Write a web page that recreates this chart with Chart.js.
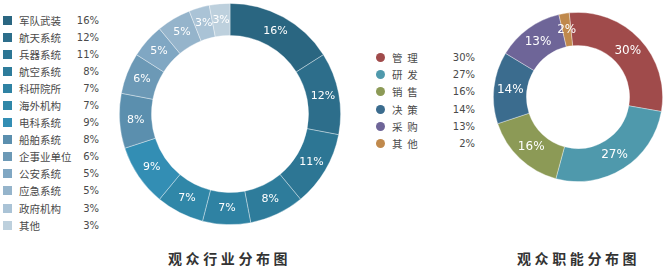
<!DOCTYPE html>
<html>
<head>
<meta charset="utf-8">
<script src="https://cdn.jsdelivr.net/npm/chart.js@4.4.0/dist/chart.umd.min.js"></script>
<style>
  body { margin: 0; width: 668px; height: 267px; background: #fff; position: relative; overflow: hidden; font-family: "Noto Sans CJK SC", sans-serif; }
  .box { position: absolute; }
  .legend { position: absolute; color: #4a4a4a; font-size: 10.5px; }
  .row { position: relative; display: flex; align-items: center; }
  .pct { position: absolute; font-family: "DejaVu Sans", sans-serif; font-size: 10px; text-align: right; }
  .title { position: absolute; top: 248px; font-size: 14px; font-weight: bold; color: #333; letter-spacing: 3.6px; white-space: nowrap; }
</style>
</head>
<body>
<div class="box" id="leftBox" style="left:119px;top:3px;width:222px;height:222px;"><canvas id="industryChart"></canvas></div>
<div class="box" id="rightBox" style="left:493px;top:12px;width:170px;height:170px;"><canvas id="roleChart"></canvas></div>
<div class="legend" id="industryLegend" style="left:0;top:12px;"></div>
<div class="legend" id="roleLegend" style="left:372px;top:48.6px;"></div>
<div class="title" style="left:168px;">观众行业分布图</div>
<div class="title" style="left:517px;">观众职能分布图</div>
<script>
const industryLabels = ["军队武装", "航天系统", "兵器系统", "航空系统", "科研院所", "海外机构", "电科系统", "船舶系统", "企事业单位", "公安系统", "应急系统", "政府机构", "其他"];
const industryValues = [16, 12, 11, 8, 7, 7, 9, 8, 6, 5, 5, 3, 3];
const industryColors = ["#2a6681", "#2d6e8b", "#2d7694", "#2e7c9b", "#2f82a3", "#3087a8", "#338eb4", "#5b8fae", "#6c99b6", "#80a7c3", "#95b4cb", "#aac3d6", "#bdd0dd"];

const roleLabels = ["管 理", "研 发", "销 售", "决 策", "采 购", "其 他"];
const roleValues = [30, 27, 16, 14, 13, 2];
const roleColors = ["#a04b4b", "#4f99ac", "#8c9a56", "#3b6c8e", "#6e6598", "#c0894c"];

// draws the percent text in the middle of each slice
const sliceLabels = {
  id: 'sliceLabels',
  afterDatasetsDraw(chart, args, opts) {
    const ctx = chart.ctx;
    const meta = chart.getDatasetMeta(0);
    const values = chart.data.datasets[0].data;
    ctx.save();
    ctx.fillStyle = '#fff';
    ctx.font = opts.size + 'px "DejaVu Sans", sans-serif';
    ctx.textAlign = 'center';
    ctx.textBaseline = 'middle';
    meta.data.forEach((arc, i) => {
      const p = arc.getCenterPoint();
      ctx.fillText(values[i] + '%', p.x, p.y);
    });
    ctx.restore();
  }
};

function donut(id, labels, values, colors, cutout, rotation, size) {
  new Chart(document.getElementById(id), {
    type: 'doughnut',
    data: {
      labels: labels,
      datasets: [{
        data: values,
        backgroundColor: colors,
        borderColor: 'rgba(255,255,255,0.45)',
        borderWidth: 0.8,
      }]
    },
    options: {
      responsive: true,
      maintainAspectRatio: false,
      animation: false,
      cutout: cutout,
      rotation: rotation,
      layout: { padding: 0 },
      plugins: {
        legend: { display: false },
        tooltip: { enabled: false },
        sliceLabels: { size: size }
      }
    },
    plugins: [sliceLabels]
  });
}

donut('industryChart', industryLabels, industryValues, industryColors, '71%', 0, 11);
donut('roleChart', roleLabels, roleValues, roleColors, '61%', -6, 12);

function legend(el, labels, values, colors, opt) {
  const box = document.getElementById(el);
  labels.forEach((name, i) => {
    const row = document.createElement('div');
    row.className = 'row';
    row.style.height = opt.rowH + 'px';
    const mark = document.createElement('span');
    mark.style.cssText = 'position:absolute;background:' + colors[i] + ';width:' + opt.mark + 'px;height:' + opt.mark + 'px;left:' + opt.markX + 'px;border-radius:' + (opt.round ? '50%' : '0');
    const txt = document.createElement('span');
    txt.style.cssText = 'position:absolute;left:' + opt.textX + 'px;white-space:nowrap;letter-spacing:' + opt.spacing + 'px;';
    txt.textContent = name;
    const pct = document.createElement('span');
    pct.className = 'pct';
    pct.style.cssText = 'left:' + (opt.pctR - 40) + 'px;width:40px;';
    pct.textContent = values[i] + '%';
    row.appendChild(mark); row.appendChild(txt); row.appendChild(pct);
    box.appendChild(row);
  });
}

legend('industryLegend', industryLabels, industryValues, industryColors, { rowH: 17.05, mark: 9, markX: 3, textX: 19, pctR: 99, round: false, spacing: 0 });
legend('roleLegend', roleLabels, roleValues, roleColors, { rowH: 17.3, mark: 9, markX: 4, textX: 20, pctR: 103, round: true, spacing: 1.2 });
</script>
</body>
</html>
